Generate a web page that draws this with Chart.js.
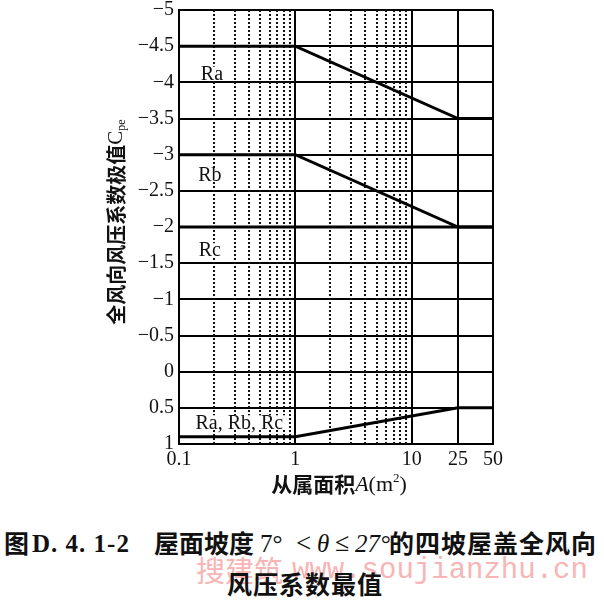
<!DOCTYPE html>
<html lang="zh">
<head>
<meta charset="UTF-8">
<script src="https://cdn.jsdelivr.net/npm/chart.js@4.4.0/dist/chart.umd.min.js"></script>
<title>风压系数最值</title>
<style>
  body { margin: 0; background: #fff; width: 604px; height: 600px; position: relative; overflow: hidden; }
  #wrap { position: absolute; left: 0; top: 0; width: 604px; height: 500px; }
  .cap { position: absolute; white-space: nowrap; line-height: 1; color: #111; }
  .cn { font-family: "Noto Sans CJK SC", sans-serif; font-weight: bold; font-size: 25px; }
  .lat { font-family: "Liberation Serif", serif; font-size: 25px; }
  .mark { color: #f7b5b5; }
</style>
</head>
<body>
<div id="wrap"><canvas id="myChart" width="604" height="500"></canvas></div>
<!-- watermark -->
<div class="cap mark" style="left:196px; top:555px; font-family:'Noto Sans CJK SC'; font-size:29px;">搜建筑</div>
<div class="cap mark" style="left:292px; top:556px; font-family:'Liberation Mono', monospace; font-size:29px;">www.soujianzhu.cn</div>
<!-- caption -->
<div class="cap cn" style="left:4px; top:530px;">图</div>
<div class="cap lat" style="left:32px; top:531px; font-weight:bold; letter-spacing:1px;">D. 4. 1-2</div>
<div class="cap cn" style="left:154px; top:530px;">屋面坡度</div>
<div class="cap lat" style="left:260px; top:531px;">7°</div>
<div class="cap lat" style="left:296px; top:530px; font-size:27px;">&lt;</div>
<div class="cap lat" style="left:317px; top:531px; font-style:italic;">θ</div>
<div class="cap lat" style="left:335px; top:530px; font-size:26px;">≤</div>
<div class="cap lat" style="left:355px; top:531px; font-style:italic;">27°</div>
<div class="cap cn" style="left:389px; top:530px; letter-spacing:1px;">的四坡屋盖全风向</div>
<div class="cap cn" style="left:227px; top:571px; letter-spacing:1px;">风压系数最值</div>
<script>
// data
const areas = [0.1, 1, 25, 50];
const raValues = [-4.5, -4.5, -3.5, -3.5];
const rbValues = [-3, -3, -2, -2];
const rcValues = [-2, -2, -2, -2];
const positiveValues = [0.9, 0.9, 0.5, 0.5];

const xTickValues = [0.1, 0.2, 0.3, 0.4, 0.5, 0.6, 0.7, 0.8, 0.9, 1, 2, 3, 4, 5, 6, 7, 8, 9, 10, 25, 50];
const xLabelValues = [0.1, 1, 10, 25, 50];
const curveLabels = [
  { text: 'Ra', x: 0.192, y: -4.12 },
  { text: 'Rb', x: 0.184, y: -2.72 },
  { text: 'Rc', x: 0.184, y: -1.68 },
  { text: 'Ra, Rb, Rc', x: 0.33, y: 0.70 }
];

const serif = "'Liberation Serif', 'Times New Roman', serif";

function toPoints(vals) {
  return areas.map((a, i) => ({ x: a, y: vals[i] }));
}

const lineStyle = { borderColor: '#000', borderWidth: 3, pointRadius: 0, tension: 0, fill: false };

const extras = {
  id: 'extras',
  beforeDatasetsDraw(chart) {
    const ctx = chart.ctx;
    const xs = chart.scales.x;
    const area = chart.chartArea;
    ctx.save();
    ctx.strokeStyle = '#111';
    ctx.lineWidth = 2;
    ctx.setLineDash([2, 2]);
    xTickValues.forEach(v => {
      if (xLabelValues.includes(v)) return;
      const px = Math.round(xs.getPixelForValue(v));
      ctx.beginPath();
      ctx.moveTo(px, area.top);
      ctx.lineTo(px, area.bottom);
      ctx.stroke();
    });
    ctx.restore();
  },
  afterDatasetsDraw(chart) {
    const ctx = chart.ctx;
    const xs = chart.scales.x, ys = chart.scales.y;
    ctx.save();
    ctx.font = '20px ' + serif;
    ctx.textAlign = 'center';
    ctx.textBaseline = 'middle';
    curveLabels.forEach(l => {
      const px = xs.getPixelForValue(l.x), py = ys.getPixelForValue(l.y);
      const w = ctx.measureText(l.text).width;
      ctx.fillStyle = '#fff';
      ctx.fillRect(px - w / 2 - 2, py - 7, w + 4, 14);
      ctx.fillStyle = '#111';
      ctx.fillText(l.text, px, py + 1);
    });
    ctx.restore();
  },
  afterDraw(chart) {
    const ctx = chart.ctx;
    ctx.save();
    ctx.fillStyle = '#111';
    ctx.textBaseline = 'middle';

    // y axis title, rotated
    const yParts = [
      { t: '全风向风压系数极值', f: "bold 20px 'Noto Sans CJK SC'", dy: 0 },
      { t: 'C', f: '21px ' + serif, dy: 0 },
      { t: 'pe', f: '12px ' + serif, dy: 6 }
    ];
    let total = 0;
    yParts.forEach(p => { ctx.font = p.f; p.w = ctx.measureText(p.t).width; total += p.w; });
    ctx.translate(115, 222);
    ctx.rotate(-Math.PI / 2);
    let cx = -total / 2;
    ctx.textAlign = 'left';
    yParts.forEach(p => { ctx.font = p.f; ctx.fillText(p.t, cx, p.dy + 1); cx += p.w; });
    ctx.setTransform(1, 0, 0, 1, 0, 0);

    // x axis title
    const xParts = [
      { t: '从属面积', f: "bold 21px 'Noto Sans CJK SC'", dy: 0 },
      { t: 'A', f: 'italic 22px ' + serif, dy: 1 },
      { t: '(m', f: '22px ' + serif, dy: 1 },
      { t: '2', f: '13px ' + serif, dy: -5 },
      { t: ')', f: '22px ' + serif, dy: 1 }
    ];
    total = 0;
    xParts.forEach(p => { ctx.font = p.f; p.w = ctx.measureText(p.t).width; total += p.w; });
    cx = 339 - total / 2;
    xParts.forEach(p => { ctx.font = p.f; ctx.fillText(p.t, cx, 484 + p.dy); cx += p.w; });
    ctx.restore();
  }
};

const config = {
  type: 'line',
  data: {
    datasets: [
      Object.assign({ label: 'Ra', data: toPoints(raValues) }, lineStyle),
      Object.assign({ label: 'Rb', data: toPoints(rbValues) }, lineStyle),
      Object.assign({ label: 'Rc', data: toPoints(rcValues) }, lineStyle),
      Object.assign({ label: 'Ra,Rb,Rc', data: toPoints(positiveValues) }, lineStyle)
    ]
  },
  options: {
    responsive: false,
    animation: false,
    layout: { padding: { left: 0, right: 111, top: 10, bottom: 0 } },
    plugins: { legend: { display: false }, tooltip: { enabled: false } },
    scales: {
      x: {
        type: 'logarithmic',
        min: 0.1,
        max: 50,
        afterBuildTicks(scale) {
          scale.ticks = xTickValues.map(v => ({ value: v }));
        },
        afterFit(scale) { scale.height = 56; },
        grid: {
          drawTicks: false,
          color: '#000',
          lineWidth: ctx => (ctx.tick && xLabelValues.includes(ctx.tick.value)) ? 2 : 0
        },
        border: { color: '#000', width: 2 },
        ticks: {
          autoSkip: false,
          maxRotation: 0,
          padding: 4,
          color: '#111',
          font: { family: serif, size: 20 },
          callback: v => xLabelValues.includes(v) ? String(v) : ''
        }
      },
      y: {
        type: 'linear',
        reverse: true,
        min: -5,
        max: 1,
        afterFit(scale) {
          scale.width = 179;
          scale.paddingTop = 0;
          scale.paddingBottom = 0;
        },
        grid: { drawTicks: false, color: '#000', lineWidth: 2 },
        border: { color: '#000', width: 2 },
        ticks: {
          stepSize: 0.5,
          padding: 5,
          color: '#111',
          font: { family: serif, size: 20 },
          callback: v => v < 0 ? '−' + Math.abs(v) : String(v)
        }
      }
    }
  },
  plugins: [extras]
};

new Chart(document.getElementById('myChart'), config);
</script>
</body>
</html>
